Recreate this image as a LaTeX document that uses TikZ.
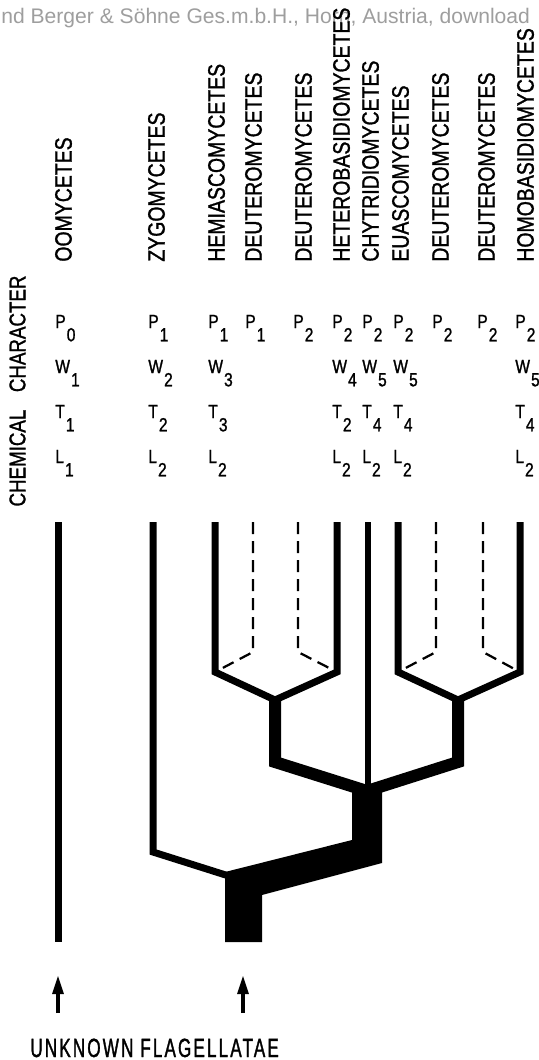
\documentclass[tikz,border=0pt]{standalone}
\usepackage{fontspec}
\usepackage{tikz}
\usetikzlibrary{arrows.meta}
\setmainfont{Liberation Sans}
\newfontfamily\labfont[FakeStretch=0.82,FakeBold=1.2]{Liberation Sans}
\newfontfamily\capfont[FakeStretch=0.65,FakeBold=1.2,LetterSpace=8]{Liberation Sans}
\definecolor{wmgray}{gray}{0.62}
\newcommand{\chr}[2]{#1\kern0.6pt\raisebox{-0.7em}{#2}}
\tikzset{
  taxon/.style={rotate=90,anchor=west,inner sep=0pt,font=\labfont\fontsize{13.5}{15}\selectfont},
  chem/.style={anchor=base west,inner sep=0pt,font=\labfont\fontsize{10.8}{12}\selectfont},
  twig/.style={line width=1.4mm,line join=miter},
  stemline/.style={line width=2.4mm,line join=miter},
  dashtwig/.style={line width=0.45mm,dash pattern=on 2.4mm off 1.4mm},
  arrowup/.style={line width=0.8mm,-{Triangle[width=2.1mm,length=3.8mm]}}
}
\begin{document}
\begin{tikzpicture}[x=0.2mm,y=-0.2mm]
\useasboundingbox (0,0) rectangle (539,1060);
\node[anchor=base west,inner sep=0pt,text=wmgray,font=\fontsize{12}{14}\selectfont] (wm) at (1,23) {nd Berger \& Söhne Ges.m.b.H., Horn, Austria, download};

\node[rotate=90,inner sep=0pt,font=\labfont\fontsize{13}{15}\selectfont] (chemchar) at (17.5,391) {CHEMICAL\hspace{10pt}CHARACTER};
\foreach \x/\nm/\txt in {55/oomy/OOMYCETES, 148/zygo/ZYGOMYCETES, 208/hemi/HEMIASCOMYCETES, 245/deutA/DEUTEROMYCETES, 295/deutB/DEUTEROMYCETES, 333/hetero/HETEROBASIDIOMYCETES, 362/chytr/CHYTRIDIOMYCETES, 392/euasc/EUASCOMYCETES, 432/deutC/DEUTEROMYCETES, 478/deutD/DEUTEROMYCETES, 517/homo/HOMOBASIDIOMYCETES}
  \node[taxon] (\nm) at (\x+8.5,262) {\txt};

\foreach \x/\i in {55/0,148/1,208/1,245/1,293/2,332/2,362/2,393/2,432/2,477/2,515/2}
  \node[chem] (p\x) at (\x,328) {\chr{P}{\i}};
\foreach \x/\i in {55/1,148/2,208/3,332/4,362/5,393/5,515/5}
  \node[chem] (w\x) at (\x,373) {\chr{W}{\i}};
\foreach \x/\i in {55/1,148/2,208/3,332/2,362/4,393/4,515/4}
  \node[chem] (t\x) at (\x,418) {\chr{T}{\i}};
\foreach \x/\i in {55/1,148/2,208/2,332/2,362/2,393/2,515/2}
  \node[chem] (l\x) at (\x,463) {\chr{L}{\i}};

\draw[twig] (58,522) -- (58,942);
\draw[twig] (153,522) -- (153,852) -- (232,877);
\draw[twig] (215,522) -- (215,672) -- (275,700) -- (337,672) -- (337,522);
\draw[twig] (398,522) -- (398,672) -- (458,700) -- (520,672) -- (520,522);
\draw[dashtwig] (253,522) -- (253,652) -- (215,672);
\draw[dashtwig] (298,522) -- (298,652) -- (337,672);
\draw[dashtwig] (436,522) -- (436,652) -- (398,672);
\draw[dashtwig] (483,522) -- (483,652) -- (520,672);
\draw[stemline] (275,698) -- (275,762) -- (367,791);
\draw[stemline] (458,698) -- (458,762) -- (367,791);
\draw[line width=1.2mm] (368,522) -- (368,800);
\fill (352,788) -- (382,788) -- (382,863) -- (262,895) -- (262,942) -- (225,942) -- (225,872) -- (352,840) -- cycle;

\coordinate (a1) at (58,1013);
\coordinate (a1t) at (58,975);
\coordinate (a2) at (243,1013);
\coordinate (a2t) at (243,975);
\draw[arrowup] (a1) -- (a1t);
\draw[arrowup] (a2) -- (a2t);
\node[anchor=base west,inner sep=0pt,font=\capfont\fontsize{15}{17}\selectfont] (flag) at (30,1057) {UNKNOWN FLAGELLATAE};
\end{tikzpicture}
\end{document}
